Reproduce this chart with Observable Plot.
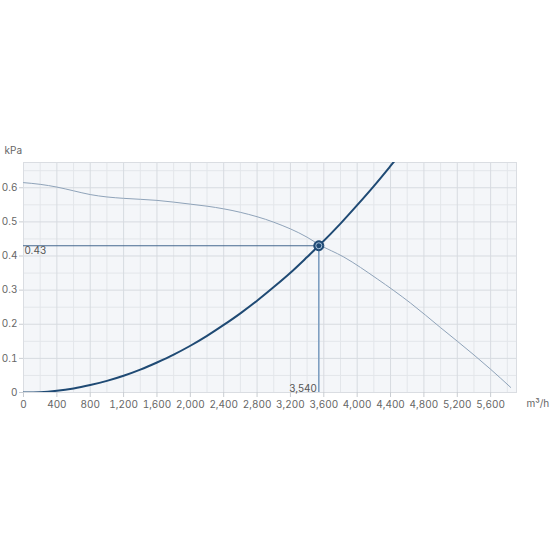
<!DOCTYPE html>
<html><head><meta charset="utf-8">
<script src="https://cdn.jsdelivr.net/npm/d3@7"></script>
<script src="https://cdn.jsdelivr.net/npm/@observablehq/plot@0.6"></script>
<style>html,body{margin:0;padding:0;background:#fff;} #chart svg{display:block}</style>
</head><body><div id="chart"></div>
<script>
// Fan curve: flow m³/h, pressure kPa
const fanFlow     = [0, 200, 400, 600, 800, 1000, 1200, 1600, 2000, 2200, 2600, 3000, 3400, 3540, 3840, 4240, 4640, 5000, 5400, 5600, 5840];
const fanPressure = [0.615, 0.610, 0.602, 0.591, 0.580, 0.573, 0.569, 0.563, 0.552, 0.546, 0.528, 0.499, 0.455, 0.434, 0.397, 0.333, 0.262, 0.190, 0.110, 0.068, 0.015];
// System curve
const sysFlow     = [0, 200, 400, 600, 800, 1000, 1200, 1400, 1600, 1800, 2000, 2200, 2400, 2600, 2800, 3000, 3200, 3400, 3540, 3800, 4000, 4200, 4400, 4500];
const sysPressure = [0, 0.001, 0.005, 0.012, 0.022, 0.034, 0.049, 0.067, 0.088, 0.111, 0.137, 0.166, 0.198, 0.232, 0.269, 0.309, 0.351, 0.397, 0.430, 0.495, 0.549, 0.605, 0.664, 0.694];
// Operating point
const opFlow = [3540];
const opPressure = [0.43];
const opFlowLabel = ["3,540"];
const opPressureLabel = ["0.43"];
// Axis ticks
const xTicks = [0, 400, 800, 1200, 1600, 2000, 2400, 2800, 3200, 3600, 4000, 4400, 4800, 5200, 5600];
const yTicks = [0, 0.1, 0.2, 0.3, 0.4, 0.5, 0.6];
const yTickLabels = ["0", "0.1", "0.2", "0.3", "0.4", "0.5", "0.6"];
const xMinor = [200, 600, 1000, 1400, 1800, 2200, 2600, 3000, 3400, 3800, 4200, 4600, 5000, 5400, 5800];
const yMinor = [0.05, 0.15, 0.25, 0.35, 0.45, 0.55, 0.65];
const yUnit = "kPa";
const xUnit = "m³/h";

const fan = fanFlow.map((x, i) => ({x, y: fanPressure[i]}));
const sys = sysFlow.map((x, i) => ({x, y: sysPressure[i]}));
const op = opFlow.map((x, i) => ({x, y: opPressure[i], xl: opFlowLabel[i], yl: opPressureLabel[i]}));

const plot = Plot.plot({
  width: 550, height: 550,
  marginLeft: 23, marginRight: 34, marginTop: 162, marginBottom: 158,
  style: {fontFamily: "Inter, 'Noto Sans', sans-serif", fontSize: "10px", background: "#fff", color: "#666", overflow: "visible"},
  x: {domain: [0, 5910], axis: null},
  y: {domain: [0, 0.674], axis: null},
  marks: [
    Plot.frame({fill: "#f4f6f9", stroke: null}),
    Plot.ruleX(xMinor, {stroke: "#e3e6ea", strokeWidth: 1}),
    Plot.ruleY(yMinor, {stroke: "#e3e6ea", strokeWidth: 1}),
    Plot.ruleX(xTicks, {stroke: "#d7dbe0", strokeWidth: 1}),
    Plot.ruleY(yTicks, {stroke: "#d7dbe0", strokeWidth: 1}),
    Plot.frame({stroke: "#dadde2"}),
    Plot.axisX(xTicks, {tickSize: 5, tickPadding: 3, tickFormat: d3.format(","), stroke: "#c9cdd2", fill: "#666", label: null}),
    Plot.axisY(yTicks, {tickSize: 4, tickPadding: 2, tickFormat: (d, i) => yTickLabels[i], stroke: "#c9cdd2", fill: "#666", label: null}),
    Plot.line(fan, {x: "x", y: "y", stroke: "#8fa3b9", strokeWidth: 1, curve: "monotone-x"}),
    Plot.ruleY(op, {y: "y", x1: 0, x2: "x", stroke: "#46698f", strokeWidth: 1.2}),
    Plot.ruleX(op, {x: "x", y1: 0, y2: "y", stroke: "#7f9fc1", strokeWidth: 1.6}),
    Plot.line(sys, {x: "x", y: "y", stroke: "#1f4a74", strokeWidth: 2, curve: "monotone-x", clip: true}),
    Plot.dot(op, {x: "x", y: "y", r: 5, fill: "#1f4a74", stroke: "#1f4a74", strokeWidth: 1}),
    Plot.dot(op, {x: "x", y: "y", r: 3, fill: "#1f4a74", stroke: "#a9c2dc", strokeWidth: 1}),
    Plot.text(op, {x: 0, y: "y", text: "yl", textAnchor: "start", lineAnchor: "top", dx: 1, dy: 1, fill: "#555"}),
    Plot.text(op, {x: "x", y: 0, text: "xl", textAnchor: "end", lineAnchor: "bottom", dx: -2, dy: -1, fill: "#555"}),
    Plot.text([yUnit], {frameAnchor: "top-left", text: d => d, textAnchor: "start", dx: -19, dy: -16, fill: "#666"}),
    Plot.text([xUnit], {frameAnchor: "bottom-right", text: d => d, textAnchor: "start", dx: 10, dy: 14, fill: "#666"})
  ]
});
document.getElementById("chart").appendChild(plot);
</script>
</body></html>
